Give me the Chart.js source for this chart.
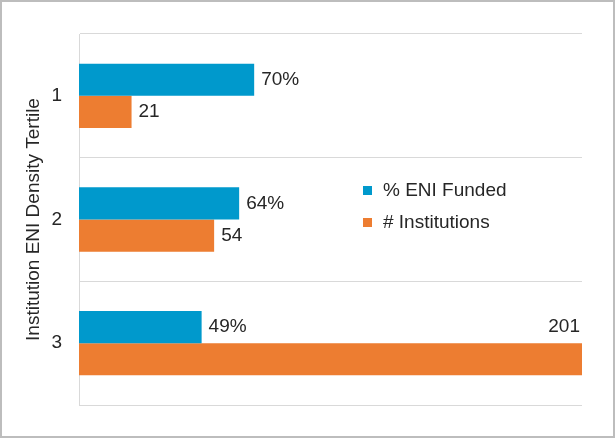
<!DOCTYPE html>
<html>
<head>
<meta charset="utf-8">
<script src="https://cdn.jsdelivr.net/npm/chart.js@4.4.0/dist/chart.umd.min.js"></script>
<style>
html,body{margin:0;padding:0;background:#fff;}
#wrap{position:relative;width:615px;height:438px;}
#frame{position:absolute;left:0;top:0;width:615px;height:438px;box-sizing:border-box;border:2px solid #bdbdbd;pointer-events:none;}
</style>
</head>
<body>
<div id="wrap"><canvas id="mycanvas" width="615" height="438"></canvas><div id="frame"></div></div>
<script>
var tertiles = ['1', '2', '3'];
var pctFunded = [70, 64, 49];
var numInstitutions = [21, 54, 201];
var seriesNames = ['% ENI Funded', '# Institutions'];
var xMax = 201;

var FONT = '"Liberation Sans", Arial, sans-serif';
var FSIZE = 19;

// value labels at bar ends
var valueLabels = {
	id: 'valueLabels',
	afterDatasetsDraw: function(chart) {
		var ctx = chart.ctx;
		ctx.save();
		ctx.font = FSIZE + 'px ' + FONT;
		ctx.fillStyle = '#262626';
		ctx.textBaseline = 'middle';
		chart.data.datasets.forEach(function(ds, di) {
			var meta = chart.getDatasetMeta(di);
			meta.data.forEach(function(bar, i) {
				var txt = ds.data[i] + (di === 0 ? '%' : '');
				var w = ctx.measureText(txt).width;
				if (bar.x + 7 + w > chart.chartArea.right) {
					ctx.textAlign = 'right';
					ctx.fillText(txt, bar.x - 2, bar.y - bar.height);
				} else {
					ctx.textAlign = 'left';
					ctx.fillText(txt, bar.x + 7, bar.y);
				}
			});
		});
		ctx.restore();
	}
};

// legend inside the plot
var sideLegend = {
	id: 'sideLegend',
	afterDraw: function(chart) {
		var ctx = chart.ctx;
		var x = chart.chartArea.left + 284;
		var y = 191;
		ctx.save();
		ctx.font = FSIZE + 'px ' + FONT;
		ctx.textAlign = 'left';
		ctx.textBaseline = 'middle';
		chart.data.datasets.forEach(function(ds, i) {
			ctx.fillStyle = ds.backgroundColor;
			ctx.fillRect(x, y + i * 32 - 5, 9, 9);
			ctx.fillStyle = '#262626';
			ctx.fillText(ds.label, x + 20, y + i * 32);
		});
		ctx.restore();
	}
};

var chartdata = {
	labels: tertiles,
	datasets: [
		{
			label: seriesNames[0],
			backgroundColor: '#0099cc',
			data: pctFunded
		},
		{
			label: seriesNames[1],
			backgroundColor: '#ed7d31',
			data: numInstitutions
		}
	]
};

var ctx = document.getElementById('mycanvas');

var barGraph = new Chart(ctx, {
	type: 'bar',
	data: chartdata,
	plugins: [valueLabels, sideLegend],
	options: {
		responsive: false,
		animation: false,
		indexAxis: 'y',
		layout: { padding: { left: 0, top: 34, right: 33, bottom: 33 } },
		datasets: {
			bar: { barPercentage: 1, categoryPercentage: 0.52 }
		},
		plugins: {
			legend: { display: false },
			tooltip: { enabled: false }
		},
		scales: {
			x: {
				display: false,
				min: 0,
				max: xMax
			},
			y: {
				afterFit: function(scale) { scale.width = 79; },
				grid: { color: '#d9d9d9', drawTicks: false, offset: true },
				border: { display: true, color: '#d9d9d9' },
				ticks: {
					padding: 17,
					color: '#262626',
					font: { family: FONT, size: FSIZE }
				},
				title: {
					display: true,
					text: 'Institution ENI Density Tertile',
					color: '#262626',
					font: { family: FONT, size: FSIZE },
					padding: { top: 22, bottom: 0 }
				}
			}
		}
	}
});
</script>
</body>
</html>
